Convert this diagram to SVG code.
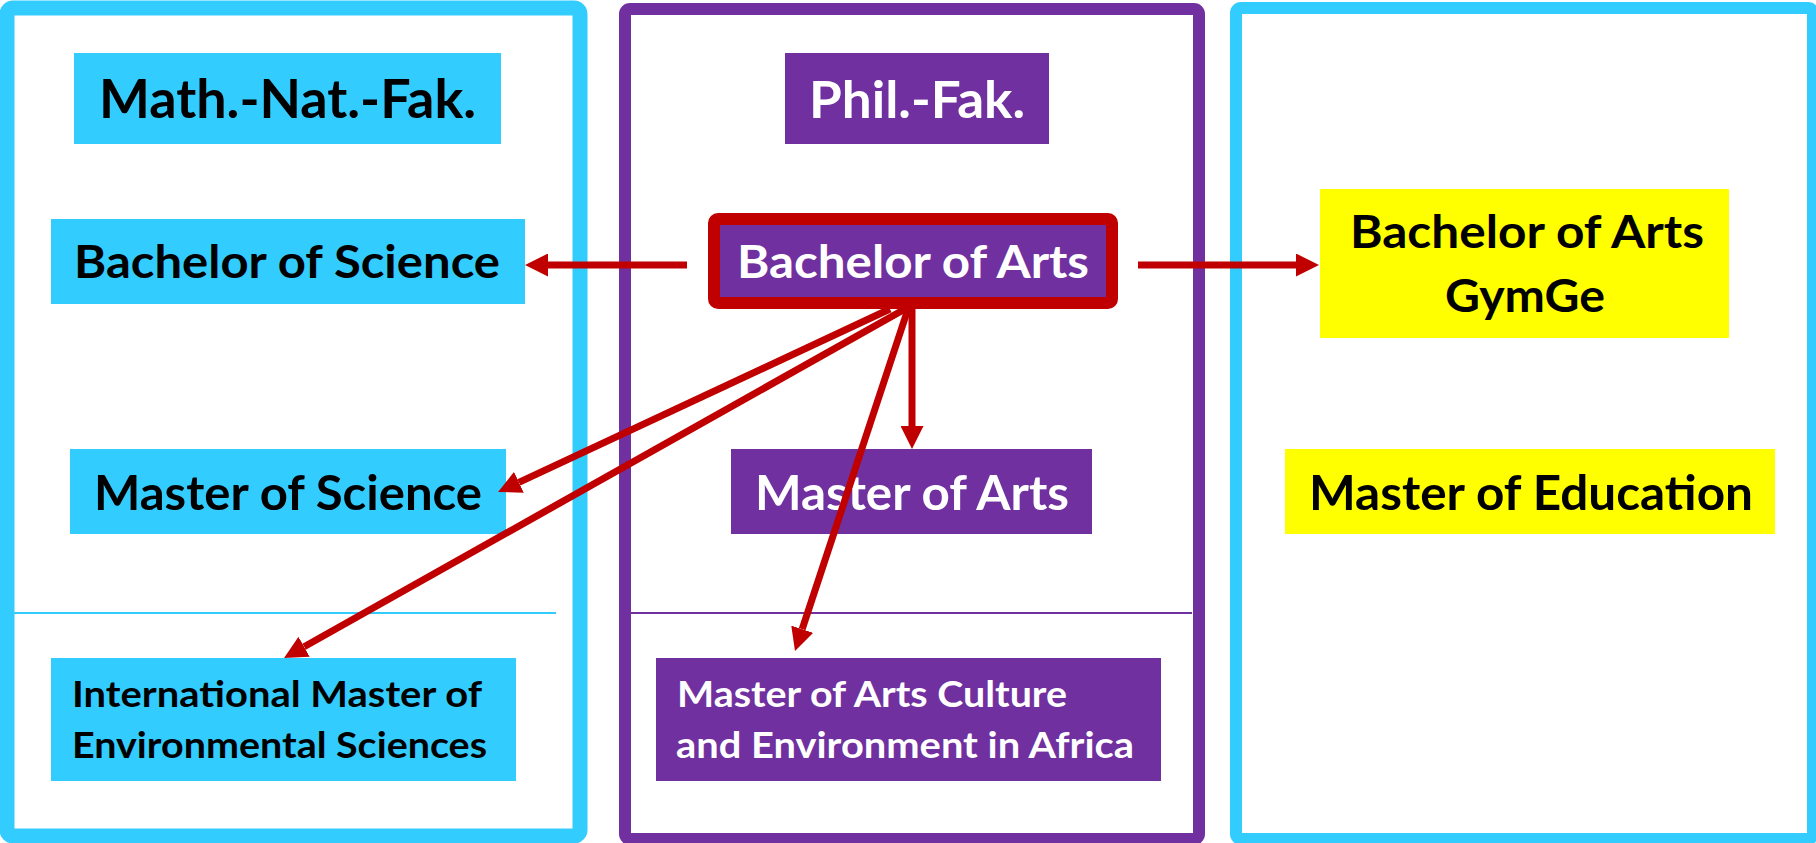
<svg xmlns="http://www.w3.org/2000/svg" width="1816" height="843" viewBox="0 0 1816 843">
  <style>
    .t { font-family: Lato, "Open Sans", "Liberation Sans", sans-serif; font-weight: bold; }
    .dk { fill: #000000; }
    .wh { fill: #FFFFFF; }
    .blue { fill: #33CCFF; }
    .purple { fill: #7030A0; }
    .yellow { fill: #FFFF00; }
    .conn { stroke: #C00000; stroke-width: 7; fill: none; marker-end: url(#ah); }
  </style>
  <defs>
    <marker id="ah" markerUnits="userSpaceOnUse" markerWidth="23" markerHeight="23" refX="0" refY="11.5" orient="auto" viewBox="0 0 23 23">
      <path d="M0,0 L23,11.5 L0,23 Z" fill="#C00000"/>
    </marker>
  </defs>
  <rect x="0" y="0" width="1816" height="843" fill="#FFFFFF"/>

  <g id="container-math-nat">
    <rect x="7" y="8" width="573" height="828" rx="6" fill="none" stroke="#33CCFF" stroke-width="15"/>
    <line x1="14" y1="613" x2="556" y2="613" stroke="#33CCFF" stroke-width="2"/>
  </g>
  <g id="container-phil">
    <rect x="625" y="9" width="574" height="830" rx="5" fill="none" stroke="#7030A0" stroke-width="12"/>
    <line x1="631" y1="613" x2="1192" y2="613" stroke="#7030A0" stroke-width="2"/>
  </g>
  <g id="container-edu">
    <rect x="1236" y="8" width="577" height="831" rx="5" fill="none" stroke="#33CCFF" stroke-width="12"/>
  </g>

  <g id="node-math-nat-fak">
    <rect class="blue" x="74" y="53" width="427" height="91"/>
    <text class="t dk" x="99" y="118" font-size="53" textLength="377" lengthAdjust="spacingAndGlyphs">Math.-Nat.-Fak.</text>
  </g>
  <g id="node-phil-fak">
    <rect class="purple" x="785" y="53" width="264" height="91"/>
    <text class="t wh" x="809" y="118" font-size="52" textLength="216" lengthAdjust="spacingAndGlyphs">Phil.-Fak.</text>
  </g>
  <g id="node-bsc">
    <rect class="blue" x="51" y="219" width="474" height="85"/>
    <text class="t dk" x="74" y="278" font-size="46" textLength="426" lengthAdjust="spacingAndGlyphs">Bachelor of Science</text>
  </g>
  <g id="node-ba">
    <rect class="purple" x="714" y="219" width="398" height="84" rx="4" stroke="#C00000" stroke-width="12"/>
    <text class="t wh" x="737" y="278" font-size="46" textLength="352" lengthAdjust="spacingAndGlyphs">Bachelor of Arts</text>
  </g>
  <g id="node-ba-gymge">
    <rect class="yellow" x="1320" y="189" width="409" height="149"/>
    <text class="t dk" x="1350" y="248" font-size="46" textLength="354" lengthAdjust="spacingAndGlyphs">Bachelor of Arts</text>
    <text class="t dk" x="1445" y="312" font-size="46" textLength="160" lengthAdjust="spacingAndGlyphs">GymGe</text>
  </g>
  <g id="node-msc">
    <rect class="blue" x="70" y="449" width="436" height="85"/>
    <text class="t dk" x="94" y="510" font-size="47" textLength="388" lengthAdjust="spacingAndGlyphs">Master of Science</text>
  </g>
  <g id="node-ma">
    <rect class="purple" x="731" y="449" width="361" height="85"/>
    <text class="t wh" x="755" y="510" font-size="47" textLength="314" lengthAdjust="spacingAndGlyphs">Master of Arts</text>
  </g>
  <g id="node-med">
    <rect class="yellow" x="1285" y="449" width="490" height="85"/>
    <text class="t dk" x="1309" y="510" font-size="47" textLength="444" lengthAdjust="spacingAndGlyphs">Master of Education</text>
  </g>
  <g id="node-int-master">
    <rect class="blue" x="51" y="658" width="465" height="123"/>
    <text class="t dk" x="72" y="707" font-size="36" textLength="410" lengthAdjust="spacingAndGlyphs">International Master of</text>
    <text class="t dk" x="72" y="758" font-size="36" textLength="415" lengthAdjust="spacingAndGlyphs">Environmental Sciences</text>
  </g>
  <g id="node-ma-culture">
    <rect class="purple" x="656" y="658" width="505" height="123"/>
    <text class="t wh" x="677" y="707" font-size="36" textLength="390" lengthAdjust="spacingAndGlyphs">Master of Arts Culture</text>
    <text class="t wh" x="676" y="758" font-size="36" textLength="458" lengthAdjust="spacingAndGlyphs">and Environment in Africa</text>
  </g>

  <g id="connectors">
    <line class="conn" x1="687" y1="265" x2="548" y2="265"/>
    <line class="conn" x1="1138" y1="265" x2="1296" y2="265"/>
    <line class="conn" x1="912" y1="309" x2="912" y2="426"/>
    <line class="conn" x1="908" y1="309" x2="802.2" y2="629.2"/>
    <line class="conn" x1="890" y1="309" x2="518.9" y2="482.3"/>
    <line class="conn" x1="905" y1="309" x2="304.1" y2="646.8"/>
  </g>
</svg>
